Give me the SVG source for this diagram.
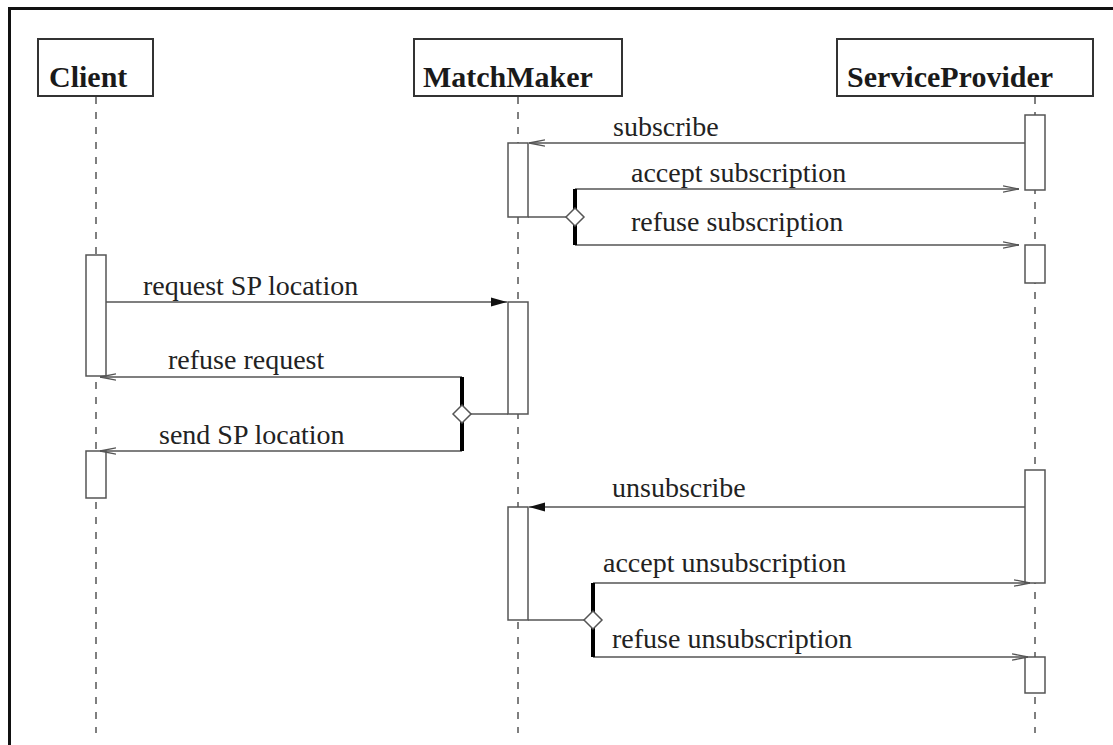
<svg xmlns="http://www.w3.org/2000/svg" width="1113" height="745" viewBox="0 0 1113 745">
<defs>
<style>
.frame{stroke:#111;stroke-width:3;fill:none}
.head{fill:#fff;stroke:#333;stroke-width:2}
.title{font-family:"Liberation Serif","Times New Roman",serif;font-weight:bold;font-size:30px;fill:#1a1a1a}
.lbl{font-family:"Liberation Serif","Times New Roman",serif;font-size:28px;fill:#222}
.life{stroke:#555;stroke-width:1.5;stroke-dasharray:7 8;fill:none}
.act{fill:#fff;stroke:#555;stroke-width:1.5}
.msg{stroke:#555;stroke-width:1.5;fill:none}
.open{marker-end:url(#open)}
.filled{marker-end:url(#filled)}
.bar{stroke:#000;stroke-width:4;fill:none}
.dia{fill:#fff;stroke:#555;stroke-width:1.5}
</style>
<marker id="open" viewBox="0 0 16 8" refX="16" refY="4" markerWidth="16" markerHeight="8" markerUnits="userSpaceOnUse" orient="auto">
<path d="M0,0.8 L16,4 L0,7.2" fill="none" stroke="#555" stroke-width="1.3"/>
</marker>
<marker id="filled" viewBox="0 0 16 10" refX="16" refY="5" markerWidth="16" markerHeight="10" markerUnits="userSpaceOnUse" orient="auto">
<path d="M0,0.5 L16,5 L0,9.5 z" fill="#111" stroke="none"/>
</marker>
</defs>
<rect width="1113" height="745" fill="#fff"/>
<path class="frame" d="M9.5,745 V8.5 H1113"/>

<g id="lifelines">
<line class="life" x1="96" y1="97" x2="96" y2="733"/>
<line class="life" x1="518" y1="97" x2="518" y2="733"/>
<line class="life" x1="1035" y1="97" x2="1035" y2="733"/>
</g>

<g id="client">
<rect class="head" x="38" y="39" width="115" height="57"/>
<text class="title" x="49" y="87">Client</text>
<rect class="act" x="86" y="255" width="20" height="121"/>
<rect class="act" x="86" y="451" width="20" height="47"/>
</g>

<g id="matchmaker">
<rect class="head" x="414" y="39" width="208" height="57"/>
<text class="title" x="423" y="87">MatchMaker</text>
<rect class="act" x="508" y="143" width="20" height="74"/>
<rect class="act" x="508" y="302" width="20" height="112"/>
<rect class="act" x="508" y="507" width="20" height="113"/>
</g>

<g id="serviceprovider">
<rect class="head" x="837" y="39" width="256" height="57"/>
<text class="title" x="847" y="87">ServiceProvider</text>
<rect class="act" x="1025" y="115" width="20" height="75"/>
<rect class="act" x="1025" y="245" width="20" height="38"/>
<rect class="act" x="1025" y="470" width="20" height="113"/>
<rect class="act" x="1025" y="657" width="20" height="36"/>
</g>

<g id="connectors">
<line class="msg open" x1="1025" y1="143" x2="529" y2="143"/>
<text class="lbl" x="613" y="136">subscribe</text>
<line class="msg open" x1="575" y1="189" x2="1019" y2="189"/>
<text class="lbl" x="631" y="182">accept subscription</text>
<line class="msg open" x1="575" y1="245" x2="1019" y2="245"/>
<text class="lbl" x="631" y="231">refuse subscription</text>
<line class="msg" x1="528" y1="217" x2="566" y2="217"/>
<line class="bar" x1="575" y1="189" x2="575" y2="245"/>
<path class="dia" d="M566,217 L575,208 L584,217 L575,226 Z"/>

<line class="msg filled" x1="106" y1="302" x2="507" y2="302"/>
<text class="lbl" x="143" y="295">request SP location</text>
<line class="msg open" x1="462" y1="377" x2="100" y2="377"/>
<text class="lbl" x="168" y="369">refuse request</text>
<line class="msg open" x1="462" y1="451" x2="100" y2="451"/>
<text class="lbl" x="159" y="444">send SP location</text>
<line class="msg" x1="508" y1="414" x2="471" y2="414"/>
<line class="bar" x1="462" y1="377" x2="462" y2="451"/>
<path class="dia" d="M453,414 L462,405 L471,414 L462,423 Z"/>

<line class="msg filled" x1="1025" y1="507" x2="529" y2="507"/>
<text class="lbl" x="612" y="497">unsubscribe</text>
<line class="msg open" x1="593" y1="583" x2="1030" y2="583"/>
<text class="lbl" x="603" y="572">accept unsubscription</text>
<line class="msg open" x1="593" y1="657" x2="1028" y2="657"/>
<text class="lbl" x="612" y="648">refuse unsubscription</text>
<line class="msg" x1="528" y1="620" x2="584" y2="620"/>
<line class="bar" x1="593" y1="583" x2="593" y2="657"/>
<path class="dia" d="M584,620 L593,611 L602,620 L593,629 Z"/>
</g>
</svg>
